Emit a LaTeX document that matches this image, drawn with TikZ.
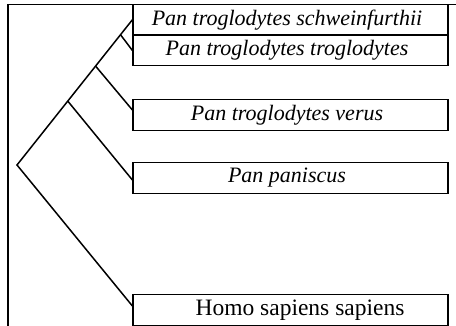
\documentclass[tikz,border=0pt]{standalone}
\usepackage{fontspec}
\setmainfont{Liberation Serif}
\usetikzlibrary{calc}
\begin{document}
\begin{tikzpicture}[x=1pt,y=1pt,
  taxon/.style={draw,line width=1.2pt,minimum width=315pt,minimum height=30.5pt,inner sep=0pt,anchor=center},
  label/.style={font=\fontsize{22}{26}\selectfont\itshape},
  branch/.style={line width=1.5pt,line join=miter},
  frameline/.style={line width=1.1pt}]
\useasboundingbox (0,0) rectangle (456,326);
\draw[frameline] (8,0) -- (8,321.5) -- (456,321.5);
\node[taxon] (b1) at (290.5,306.25) {};
\node[taxon] (b2) at (290.5,275.5) {};
\node[taxon] (b3) at (290.5,211) {};
\node[taxon] (b4) at (290.5,148) {};
\node[taxon] (b5) at (290.5,16) {};
\node[label] (t1) at (287,306.25) {Pan troglodytes schweinfurthii};
\node[label] (t2) at (287,275.5) {Pan troglodytes troglodytes};
\node[label] (t3) at (287,211) {Pan troglodytes verus};
\node[label] (t4) at (287,148) {Pan paniscus};
\node[font=\fontsize{23.5}{27}\selectfont] (t5) at (300,16) {Homo sapiens sapiens};
\coordinate (root) at (17,161);
\coordinate (top) at (b1.west);
\coordinate (A) at ($(root)!0.44!(top)$);
\coordinate (B) at ($(root)!0.681!(top)$);
\coordinate (C) at ($(root)!0.897!(top)$);
\draw[branch] ([yshift=4pt]b5.west) -- (root) -- (top);
\draw[branch] (C) -- (b2.west);
\draw[branch] (B) -- ([yshift=5pt]b3.west);
\draw[branch] (A) -- ([yshift=-2pt]b4.west);
\end{tikzpicture}
\end{document}
